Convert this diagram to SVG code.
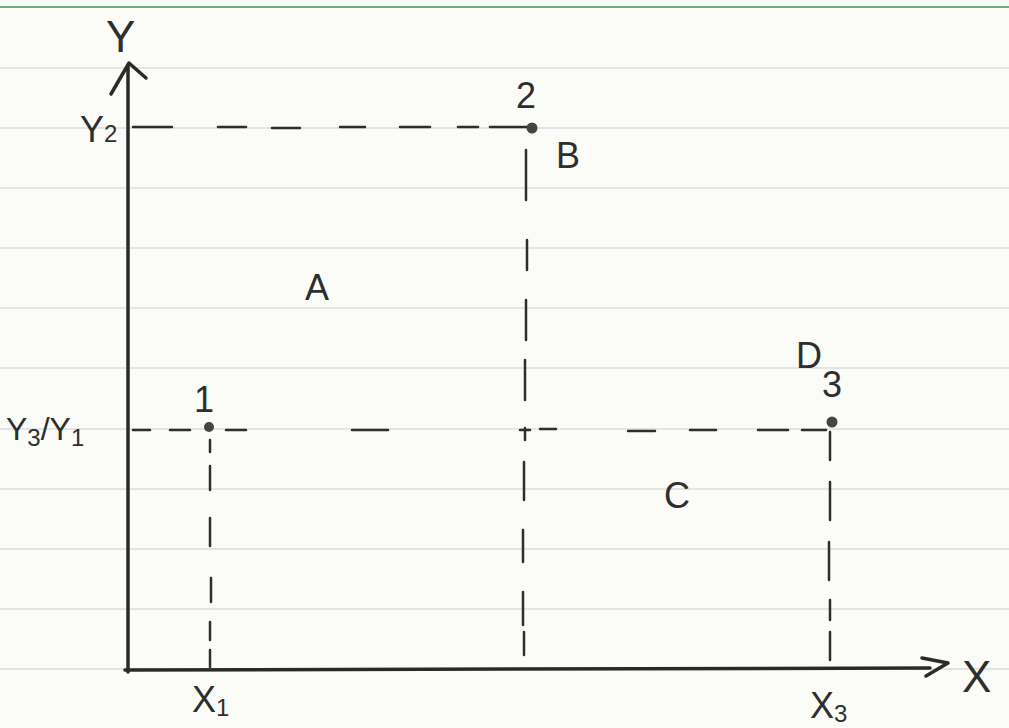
<svg xmlns="http://www.w3.org/2000/svg" width="1009" height="728" viewBox="0 0 1009 728">
<style>
.rule{stroke:#c9cfcf;stroke-width:1}
.axis{stroke:#2a2a2a;stroke-width:3.5;fill:none;stroke-linecap:round;stroke-linejoin:round}
.dash{stroke:#2e2e2e;stroke-width:2.5;fill:none;stroke-linecap:round}
.t{font-family:"Liberation Sans",Arial,sans-serif;fill:#2e2e2e;font-size:36px}
.big{font-size:44px}
.sub{font-size:24px}
.pt{fill:#444}
</style>
<rect width="1009" height="728" fill="#fbfbf8"/>
<g id="paper">
<line x1="0" y1="7" x2="1009" y2="7" stroke="#3a9a5a" stroke-width="1.5"/>
<line class="rule" x1="0" y1="68" x2="1009" y2="68"/>
<line class="rule" x1="0" y1="128" x2="1009" y2="128"/>
<line class="rule" x1="0" y1="188" x2="1009" y2="188"/>
<line class="rule" x1="0" y1="248" x2="1009" y2="248"/>
<line class="rule" x1="0" y1="308" x2="1009" y2="308"/>
<line class="rule" x1="0" y1="368" x2="1009" y2="368"/>
<line class="rule" x1="0" y1="429" x2="1009" y2="429"/>
<line class="rule" x1="0" y1="489" x2="1009" y2="489"/>
<line class="rule" x1="0" y1="549" x2="1009" y2="549"/>
<line class="rule" x1="0" y1="609" x2="1009" y2="609"/>
<line class="rule" x1="0" y1="669" x2="1009" y2="669"/>
</g>
<g id="axes">
<path class="axis" d="M128 672 L128 65"/>
<path class="axis" d="M111 94 L129 63 L146 78"/>
<path class="axis" d="M125 670 L930 668"/>
<path class="axis" d="M922 658 L948 663 L926 676"/>
<text class="t big" x="106" y="52">Y</text>
<text class="t big" x="962" y="692">X</text>
</g>
<g id="connectors">
<path class="dash" d="M133 127 H172 M218 127 H246 M272 128 H300 M340 127 H365 M400 127 H430 M458 127 H478 M490 127 H528"/>
<path class="dash" d="M133 430 H150 M170 430 H190 M226 430 H246 M352 430 H388 M520 430 H530 M540 429 H556 M628 431 H655 M690 430 H716 M758 430 H788 M802 430 H826"/>
<path class="dash" d="M210 440 V452 M210 466 V490 M210 518 V546 M211 578 V602 M210 622 V640 M210 650 V667"/>
<path class="dash" d="M526 150 V200 M527 240 V270 M526 300 V340 M525 360 V400 M525 428 V440 M524 462 V500 M523 530 V562 M523 592 V625 M524 632 V655"/>
<path class="dash" d="M830 432 V460 M830 482 V520 M829 542 V580 M830 600 V620 M830 632 V660"/>
</g>
<g id="point1">
<circle class="pt" cx="209" cy="427" r="5"/>
<text class="t" x="194" y="412">1</text>
</g>
<g id="point2">
<circle class="pt" cx="532" cy="128" r="5.5"/>
<text class="t" x="516" y="108">2</text>
</g>
<g id="point3">
<circle class="pt" cx="832" cy="422" r="5.5"/>
<text class="t" x="822" y="397">3</text>
</g>
<g id="labelA"><text class="t" x="305" y="300">A</text></g>
<g id="labelB"><text class="t" x="556" y="168">B</text></g>
<g id="labelC"><text class="t" x="664" y="508">C</text></g>
<g id="labelD"><text class="t" x="796" y="368">D</text></g>
<g id="ticks">
<text class="t" x="80" y="142">Y<tspan class="sub" dy="0">2</tspan></text>
<text class="t" x="6" y="440" style="font-size:32px">Y<tspan class="sub" dy="6">3</tspan><tspan dy="-6">/Y</tspan><tspan class="sub" dy="6">1</tspan></text>
<text class="t" x="192" y="712">X<tspan class="sub" dy="4">1</tspan></text>
<text class="t" x="810" y="718">X<tspan class="sub" dy="4">3</tspan></text>
</g>
</svg>
